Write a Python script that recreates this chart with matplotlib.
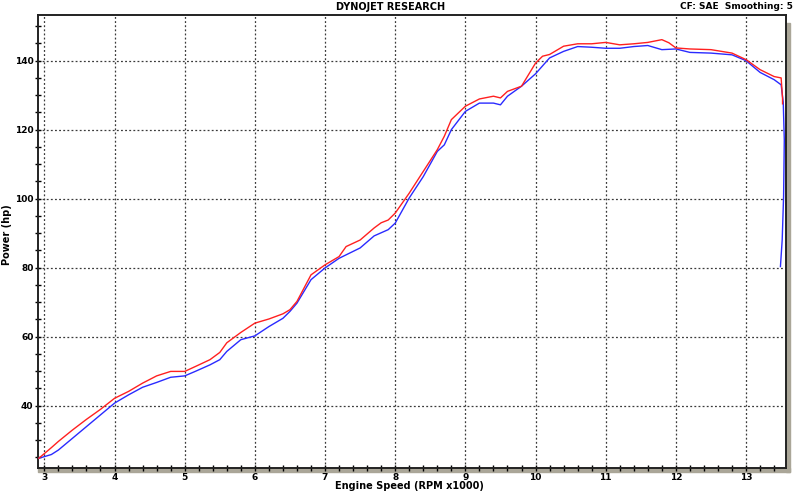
import numpy as np
import matplotlib
matplotlib.use("Agg")
import matplotlib.pyplot as plt
from matplotlib.ticker import MultipleLocator
from matplotlib.patches import Rectangle

# run 1 (red)
red_rpm = [2.92, 3.1, 3.2, 3.4, 3.6, 3.8, 4.0, 4.2, 4.4, 4.6, 4.8, 5.0, 5.15, 5.36,
           5.5, 5.6, 5.8, 6.0, 6.2, 6.4, 6.5, 6.6, 6.8, 7.0, 7.2, 7.3, 7.5, 7.7,
           7.8, 7.9, 8.0, 8.2, 8.4, 8.6, 8.7, 8.8, 9.0, 9.2, 9.4, 9.5, 9.6, 9.8,
           10.0, 10.1, 10.2, 10.4, 10.6, 10.8, 11.0, 11.2, 11.4, 11.6, 11.8, 11.9,
           12.0, 12.2, 12.5, 12.8, 13.0, 13.2, 13.4, 13.5, 13.52, 13.52]
red_hp = [24.7, 27.8, 29.6, 32.9, 36.0, 38.9, 42.1, 44.1, 46.5, 48.6, 49.9, 49.9, 51.3, 53.3,
          55.4, 58.2, 61.2, 63.9, 65.1, 66.6, 67.8, 70.2, 77.9, 80.8, 83.2, 86.1, 88.0, 91.5,
          93.0, 93.8, 95.8, 101.6, 107.9, 114.2, 118.1, 122.9, 126.8, 128.9, 129.7, 129.2, 131.1, 132.6,
          139.3, 141.3, 141.8, 144.2, 144.9, 144.9, 145.3, 144.6, 144.9, 145.3, 146.1, 145.2,
          143.7, 143.4, 143.2, 142.2, 140.3, 137.4, 135.4, 135.0, 129.0, 127.5]

# run 2 (blue)
blue_rpm = [2.92, 3.1, 3.2, 3.4, 3.6, 3.8, 4.0, 4.2, 4.4, 4.6, 4.8, 5.0, 5.15, 5.36,
            5.5, 5.6, 5.8, 6.0, 6.2, 6.4, 6.5, 6.6, 6.8, 7.0, 7.2, 7.3, 7.5, 7.7,
            7.9, 8.0, 8.2, 8.4, 8.6, 8.7, 8.8, 9.0, 9.2, 9.4, 9.5, 9.6, 9.8,
            10.0, 10.2, 10.4, 10.6, 10.8, 11.0, 11.2, 11.4, 11.6, 11.8, 12.0, 12.2,
            12.5, 12.8, 13.0, 13.2, 13.4, 13.5, 13.53, 13.545, 13.535, 13.515, 13.49]
blue_hp = [24.7, 25.8, 27.1, 30.5, 33.9, 37.3, 40.7, 43.1, 45.3, 46.7, 48.2, 48.6, 49.9, 51.8,
           53.3, 55.7, 59.1, 60.2, 62.9, 65.3, 67.3, 69.7, 76.5, 79.9, 82.7, 83.7, 85.7, 89.2,
           91.0, 92.9, 100.2, 106.4, 113.7, 115.6, 120.0, 125.3, 127.7, 127.7, 127.2, 129.7, 132.6,
           136.2, 140.8, 142.7, 144.1, 143.9, 143.6, 143.6, 144.1, 144.4, 143.2, 143.4, 142.4,
           142.2, 141.7, 140.0, 136.6, 134.5, 133.0, 128.0, 117.0, 100.6, 88.0, 80.3]

x_ticks = list(range(3, 14))
y_ticks = [40, 60, 80, 100, 120, 140]

fig = plt.figure(figsize=(8, 4.94), dpi=100)
ax = fig.add_axes([0.048, 0.052, 0.935, 0.918])

ax.plot(blue_rpm, blue_hp, color="#2a2aff", lw=1.0, zorder=3)
ax.plot(red_rpm, red_hp, color="#ff2020", lw=1.0, zorder=4)

ax.set_xlim(2.915, 13.575)
ax.set_ylim(21.8, 153.3)
ax.set_xticks(x_ticks)
ax.set_yticks(y_ticks)
ax.xaxis.set_minor_locator(MultipleLocator(0.2))
ax.yaxis.set_minor_locator(MultipleLocator(5))
ax.grid(True, which="major", color="#3a3a3a", linestyle=(0, (1.5, 1.8)), lw=0.9)

ax.tick_params(which="both", direction="inout", top=False, right=False,
               width=1.0, color="black")
ax.tick_params(which="major", length=5, labelsize=6.5, pad=1)
ax.tick_params(which="minor", length=5)
for lab in ax.get_xticklabels() + ax.get_yticklabels():
    lab.set_fontweight("bold")

for s in ax.spines.values():
    s.set_linewidth(1.4)
    s.set_color("#222222")

# grey shadow along bottom and right edge
fig.add_artist(Rectangle((0.048, 0.052 - 0.008), 0.935 + 0.005, 0.008,
                         transform=fig.transFigure, color="#aaa698", zorder=0))
fig.add_artist(Rectangle((0.983, 0.044), 0.005, 0.91,
                         transform=fig.transFigure, color="#aaa698", zorder=0))

fig.text(0.488, 0.985, "DYNOJET RESEARCH", ha="center", va="center",
         fontsize=7, fontweight="bold")
fig.text(0.991, 0.987, "CF: SAE  Smoothing: 5", ha="right", va="center",
         fontsize=6.5, fontweight="bold")
fig.text(0.512, 0.016, "Engine Speed (RPM x1000)", ha="center", va="center",
         fontsize=7, fontweight="bold")
fig.text(0.009, 0.525, "Power (hp)", ha="center", va="center", rotation=90,
         fontsize=7, fontweight="bold")

fig.savefig("out.png", dpi=100)
